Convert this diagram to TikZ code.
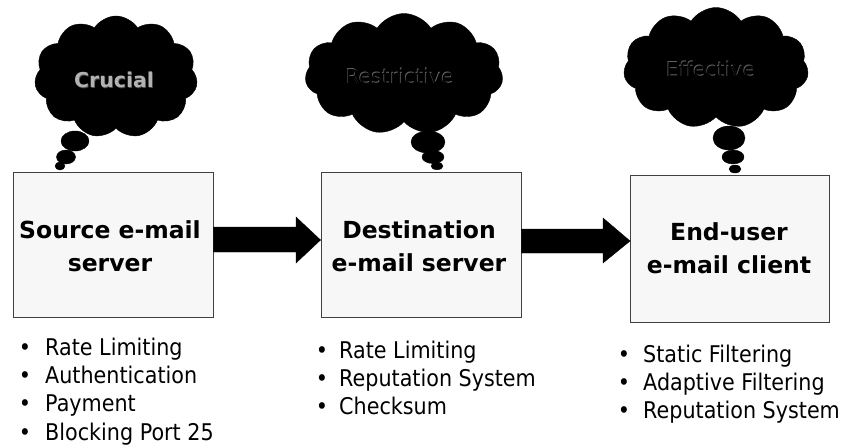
\documentclass[tikz,border=0pt]{standalone}
\usepackage{fontspec}
\setmainfont{DejaVu Sans}
\newfontfamily\listfont{DejaVu Sans}[FakeStretch=0.9]
\usetikzlibrary{shapes.symbols,shapes.geometric}
\tikzset{
  stagebox/.style={draw=black!75, line width=0.9pt, fill=black!3, inner sep=0pt},
  boxtext/.style={font=\fontsize{23.5}{33}\selectfont\bfseries, align=center, anchor=base},
  thought/.style={cloud, cloud puffs=11, cloud puff arc=115, aspect=1.35, fill=black, draw=black, inner sep=0pt},
  bubble/.style={ellipse, fill=black, draw=black, inner sep=0pt},
  bigarrow/.style={fill=black, draw=black},
  itemtext/.style={font=\listfont\fontsize{23}{28}\selectfont, anchor=base west, inner sep=0pt},
  bulletmark/.style={font=\listfont\fontsize{23}{28}\selectfont, anchor=base, inner sep=0pt},
  mood/.style={font=\fontsize{20.5}{24}\selectfont, inner sep=0pt},
}
\begin{document}
\begin{tikzpicture}[x=1pt,y=-1pt]
\useasboundingbox (0,0) rectangle (844,447);
% clouds
\node[thought, minimum width=163pt, minimum height=122pt] (c1) at (116,77) {};
\node[thought, minimum width=198pt, minimum height=121pt] (c2) at (404,74) {};
\node[thought, minimum width=185pt, minimum height=121pt] (c3) at (716,68) {};
% bubbles
\node[bubble, minimum width=28pt, minimum height=20pt] (c1a) at (75,141) {};
\node[bubble, minimum width=19pt, minimum height=14pt] (c1b) at (66,157) {};
\node[bubble, minimum width=10pt, minimum height=8pt] (c1c) at (60,166) {};
\node[bubble, minimum width=34pt, minimum height=22pt] (c2a) at (428,142) {};
\node[bubble, minimum width=22pt, minimum height=13pt] (c2b) at (433,157) {};
\node[bubble, minimum width=12pt, minimum height=7.5pt] (c2c) at (437,166) {};
\node[bubble, minimum width=32pt, minimum height=24pt] (c3a) at (729,138) {};
\node[bubble, minimum width=22pt, minimum height=14pt] (c3b) at (733,157) {};
\node[bubble, minimum width=12pt, minimum height=8pt] (c3c) at (735,169) {};
% cloud texts (embossed)
\node[mood, text=black!70] (t1s) at (114.8,80.8) {\bfseries Crucial};
\node[mood, text=black!30] (t1) at (114,80) {\bfseries Crucial};
\node[mood, text=black!60] (t2s) at (399.3,76.3) {Restrictive};
\node[mood, text=black] (t2) at (400,77) {Restrictive};
\node[mood, text=black!60] (t3s) at (710.3,69.3) {Effective};
\node[mood, text=black] (t3) at (711,70) {Effective};
% boxes
\node[stagebox, minimum width=200pt, minimum height=145pt] (b1) at (113,244.5) {};
\node[stagebox, minimum width=200pt, minimum height=145pt] (b2) at (421,244.5) {};
\node[stagebox, minimum width=199pt, minimum height=147pt] (b3) at (730,248.5) {};
\node[boxtext] (l1a) at (110,238) {Source e-mail};
\node[boxtext] (l1b) at (110,271) {server};
\node[boxtext] (l2a) at (419,238) {Destination};
\node[boxtext] (l2b) at (419,271) {e-mail server};
\node[boxtext] (l3a) at (729,240) {End-user};
\node[boxtext] (l3b) at (729,273) {e-mail client};
% block arrows
\draw[bigarrow] (b1.east |- 0,227) -- (296,227) -- (296,217) -- (b2.west |- 0,240) -- (296,263) -- (296,252) -- (b1.east |- 0,252) -- cycle;
\draw[bigarrow] (b2.east |- 0,229) -- (603,229) -- (603,218) -- (b3.west |- 0,241) -- (603,263) -- (603,253) -- (b2.east |- 0,253) -- cycle;
% lists
\foreach \n/\y/\t in {1/355/Rate Limiting, 2/383.3/Authentication, 3/411.6/Payment, 4/440/Blocking Port 25}{
  \node[bulletmark] (p\n) at (25,\y) {•};
  \node[itemtext] (q\n) at (45,\y) {\t};
}
\foreach \n/\y/\t in {1/358/Rate Limiting, 2/386/Reputation System, 3/414/Checksum}{
  \node[bulletmark] (r\n) at (322,\y) {•};
  \node[itemtext] (s\n) at (339,\y) {\t};
}
\foreach \n/\y/\t in {1/362/Static Filtering, 2/390/Adaptive Filtering, 3/418/Reputation System}{
  \node[bulletmark] (u\n) at (624,\y) {•};
  \node[itemtext] (v\n) at (643,\y) {\t};
}
\end{tikzpicture}
\end{document}
